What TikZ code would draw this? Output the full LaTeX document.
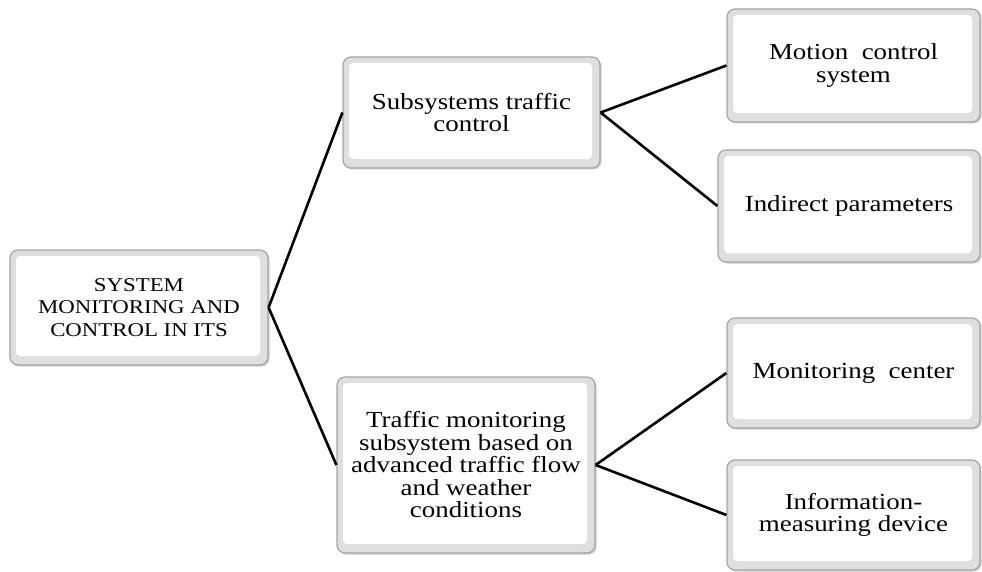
\documentclass[tikz,border=0pt]{standalone}
\usepackage{fontspec}
\setmainfont[FakeStretch=1.17]{Liberation Serif}
\usetikzlibrary{shadows}
\begin{document}
\begin{tikzpicture}[x=1pt,y=-1pt,
  box/.style={draw=gray!70, line width=1.2pt, rounded corners=8pt, fill=gray!25,
    align=center, inner sep=0pt, font=\fontsize{23}{22.5}\selectfont,
    drop shadow={shadow xshift=1.5pt, shadow yshift=-1.5pt, opacity=0.4, fill=gray},
    path picture={\fill[white, rounded corners=4pt]
      ([shift={(6pt,-6pt)}]path picture bounding box.north west) rectangle
      ([shift={(-8pt,9pt)}]path picture bounding box.south east);}},
  link/.style={line width=2.6pt, black}]
\useasboundingbox (0,0) rectangle (982,572);
\node[box, minimum width=258pt, minimum height=115pt, font=\fontsize{19.5}{22.5}\selectfont] (root) at (139,307.5)
  {SYSTEM\\MONITORING AND\\CONTROL IN ITS};
\node[box, minimum width=257pt, minimum height=111pt] (sub1) at (471.5,112.5)
  {Subsystems traffic\\control};
\node[box, minimum width=258pt, minimum height=176pt] (sub2) at (466,465)
  {Traffic monitoring\\subsystem based on\\advanced traffic flow\\and weather\\conditions};
\node[box, minimum width=253pt, minimum height=113pt] (m1) at (853.5,65.5)
  {Motion\ \ control\\system};
\node[box, minimum width=262pt, minimum height=112pt] (m2) at (849,206)
  {Indirect parameters};
\node[box, minimum width=253pt, minimum height=110pt] (m3) at (853.5,373)
  {Monitoring\ \ center};
\node[box, minimum width=253pt, minimum height=110pt] (m4) at (853.5,515)
  {Information-\\measuring device};
\draw[link] (root.east) -- (sub1.west);
\draw[link] (root.east) -- (sub2.west);
\draw[link] (sub1.east) -- (m1.west);
\draw[link] (sub1.east) -- (m2.west);
\draw[link] (sub2.east) -- (m3.west);
\draw[link] (sub2.east) -- (m4.west);
\end{tikzpicture}
\end{document}
